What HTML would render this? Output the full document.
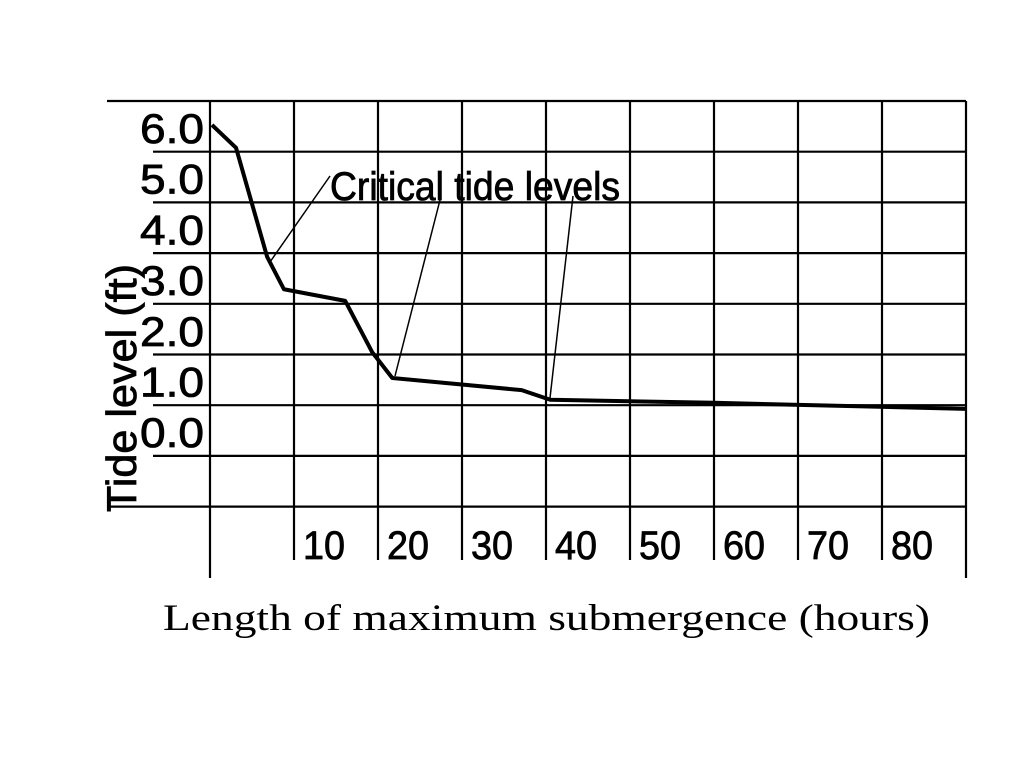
<!DOCTYPE html>
<html><head><meta charset="utf-8"><style>body{margin:0;background:#fff}svg{display:block}</style></head>
<body>
<svg width="1024" height="768" font-family="Liberation Sans, sans-serif">
<g id="grid"></g>
<g id="labels"></g>
<g id="series"></g>
<g stroke="#000" stroke-width="1.5" fill="none">
<line x1="330" y1="176" x2="270" y2="262"/>
<line x1="440" y1="200" x2="395" y2="376"/>
<line x1="573" y1="196" x2="550" y2="398"/>
</g>
<text x="330" y="200" font-size="40" stroke="#000" stroke-width="0.8" textLength="290" lengthAdjust="spacingAndGlyphs">Critical tide levels</text>
<text transform="translate(136,512) rotate(-90)" font-size="42" stroke="#000" stroke-width="0.8" textLength="248" lengthAdjust="spacingAndGlyphs">Tide level (ft)</text>
<text x="163" y="630" font-family="Liberation Serif, serif" font-size="37" textLength="767" lengthAdjust="spacingAndGlyphs">Length of maximum submergence (hours)</text>
<script>
const yTicks=[6,5,4,3,2,1,0];
const xTicks=[10,20,30,40,50,60,70,80];
const hours=[0.24,3.1,6.8,8.8,16.1,19.3,21.7,37.1,40.5,60,90];
const tide=[6.04,5.59,3.44,2.8,2.57,1.56,1.05,0.81,0.62,0.56,0.44];
const ns='http://www.w3.org/2000/svg';
const X=v=>210+v*8.4;
const Y=v=>127+(6-v)*50.7;
function mk(t,a,p){const e=document.createElementNS(ns,t);for(const k in a)e.setAttribute(k,a[k]);p.appendChild(e);return e;}
const g=document.getElementById('grid'),L=document.getElementById('labels'),S=document.getElementById('series');
for(let i=0;i<9;i++){const y=101+i*50.7;
const l=mk('line',{x1:(i==0||i==8)?107:153,y1:y,x2:966,y2:y,stroke:'#000','stroke-width':2.2},g);

}
for(let v=0;v<=90;v+=10){const x=X(v);
const l=mk('line',{x1:x,y1:101,x2:x,y2:(v==0||v==90)?578:560,stroke:'#000','stroke-width':2.2},g);

}
yTicks.forEach(v=>{const t=mk('text',{x:140,y:Y(v)+16,'font-size':42,stroke:'#000','stroke-width':0.8,textLength:64,lengthAdjust:'spacingAndGlyphs'},L);t.textContent=v.toFixed(1);

});
xTicks.forEach(v=>{const t=mk('text',{x:X(v)+9,y:559,'font-size':40,stroke:'#000','stroke-width':0.8,textLength:42,lengthAdjust:'spacingAndGlyphs'},L);t.textContent=v;

});
const p=mk('polyline',{points:hours.map((h,i)=>X(h)+','+Y(tide[i])).join(' '),fill:'none',stroke:'#000','stroke-width':4,'stroke-linejoin':'round'},S);


</script>
</svg>
</body></html>
